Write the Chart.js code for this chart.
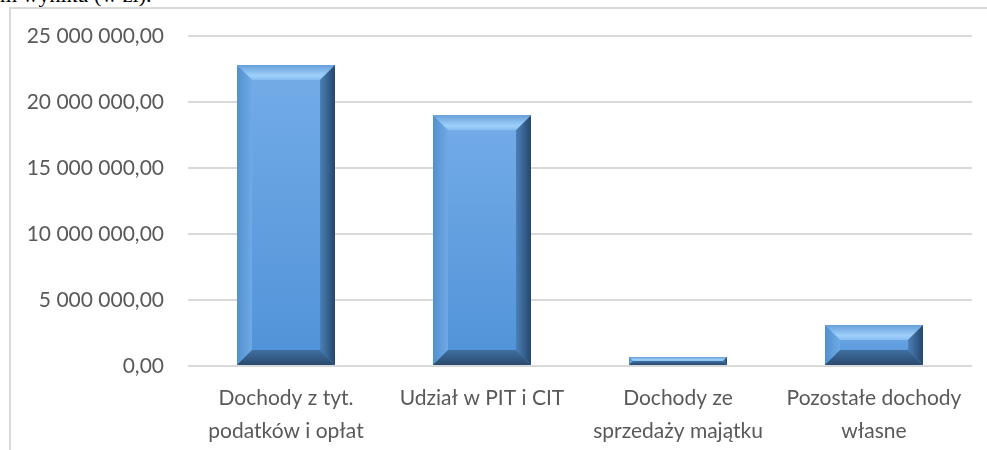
<!DOCTYPE html>
<html>
<head>
<meta charset="utf-8">
<script src="https://cdn.jsdelivr.net/npm/chart.js@4"></script>
<style>
  body { margin:0; background:#fff; width:987px; height:450px; overflow:hidden; position:relative; }
  #cut { position:absolute; left:0; top:-18px; font-family:"Liberation Serif", serif; font-size:22px; color:#000; white-space:nowrap; }
  #frame { position:absolute; left:9px; top:7px; width:978px; height:443px; border-left:2px solid #d9d9d9; border-top:2px solid #d9d9d9; }
  #chart { position:absolute; left:11px; top:9px; }
</style>
</head>
<body>
<div id="cut">m wyniku (w zł).</div>
<div id="frame"></div>
<canvas id="chart" width="976" height="441"></canvas>
<script>
// kategorie i wartości (zł)
const categories = [
    ["Dochody z tyt.", "podatków i opłat"],
    ["Udział w PIT i CIT"],
    ["Dochody ze", "sprzedaży majątku"],
    ["Pozostałe dochody", "własne"]
];
const values = [22800000, 19000000, 680000, 3100000];
const yMax = 25000000;
const yStep = 5000000;

function fmt(v) {
    let s = Math.round(v).toString();
    s = s.replace(/\B(?=(\d{3})+(?!\d))/g, " ");
    return s + ",00";
}

// efekt "skosu" jak w Excelu
const bevel = {
    id: "bevel",
    afterDatasetsDraw(chart) {
        const ctx = chart.ctx;
        chart.getDatasetMeta(0).data.forEach(function(bar) {
            const l = bar.x - bar.width / 2, r = bar.x + bar.width / 2;
            const t = bar.y, b = bar.base;
            const h = b - t;
            const d = Math.min(15, h / 2, bar.width / 2);
            ctx.save();
            // front
            let g = ctx.createLinearGradient(0, t, 0, b);
            g.addColorStop(0, "#74ace7");
            g.addColorStop(1, "#5092d8");
            ctx.fillStyle = g;
            ctx.fillRect(l, t, r - l, h);
            // góra
            g = ctx.createLinearGradient(0, t, 0, t + d);
            g.addColorStop(0, "#679fd9");
            g.addColorStop(0.7, "#9fd0fb");
            g.addColorStop(1, "#86bdf0");
            ctx.fillStyle = g;
            ctx.beginPath();
            ctx.moveTo(l, t); ctx.lineTo(r, t); ctx.lineTo(r - d, t + d); ctx.lineTo(l + d, t + d); ctx.closePath();
            ctx.fill();
            // lewo
            g = ctx.createLinearGradient(l, 0, l + d, 0);
            g.addColorStop(0, "#5290ce");
            g.addColorStop(1, "#6eaae5");
            ctx.fillStyle = g;
            ctx.beginPath();
            ctx.moveTo(l, t); ctx.lineTo(l + d, t + d); ctx.lineTo(l + d, b - d); ctx.lineTo(l, b); ctx.closePath();
            ctx.fill();
            // prawo
            g = ctx.createLinearGradient(r - d, 0, r, 0);
            g.addColorStop(0, "#4b80b8");
            g.addColorStop(1, "#25466b");
            ctx.fillStyle = g;
            ctx.beginPath();
            ctx.moveTo(r, t); ctx.lineTo(r, b); ctx.lineTo(r - d, b - d); ctx.lineTo(r - d, t + d); ctx.closePath();
            ctx.fill();
            // dół
            g = ctx.createLinearGradient(0, b - d, 0, b);
            g.addColorStop(0, "#3f6fa1");
            g.addColorStop(1, "#2a4a6e");
            ctx.fillStyle = g;
            ctx.beginPath();
            ctx.moveTo(l, b); ctx.lineTo(r, b); ctx.lineTo(r - d, b - d); ctx.lineTo(l + d, b - d); ctx.closePath();
            ctx.fill();
            ctx.restore();
        });
    }
};

const font = { family: "Lato, 'Open Sans', sans-serif", size: 21 };

new Chart(document.getElementById("chart"), {
    type: "bar",
    plugins: [bevel],
    data: {
        labels: categories,
        datasets: [{
            data: values,
            backgroundColor: "#5b9bd5",
            categoryPercentage: 0.5,
            barPercentage: 1
        }]
    },
    options: {
        responsive: false,
        animation: false,
        layout: { padding: { top: 27, right: 15, left: 0, bottom: 0 } },
        plugins: { legend: { display: false }, tooltip: { enabled: false } },
        scales: {
            x: {
                grid: { display: false },
                border: { display: false },
                ticks: { color: "#595959", font: Object.assign({ lineHeight: 1.55 }, font), padding: 8, maxRotation: 0, autoSkip: false },
                afterFit: function(s) { s.height = 84; }
            },
            y: {
                min: 0,
                max: yMax,
                grid: { color: "#d9d9d9", lineWidth: 2, drawTicks: false },
                border: { display: false },
                ticks: { stepSize: yStep, color: "#595959", font: font, padding: 24, callback: function(v) { return fmt(v); } },
                afterFit: function(s) { s.width = 177; s.paddingTop = 0; s.paddingBottom = 0; }
            }
        }
    }
});
</script>
</body>
</html>
